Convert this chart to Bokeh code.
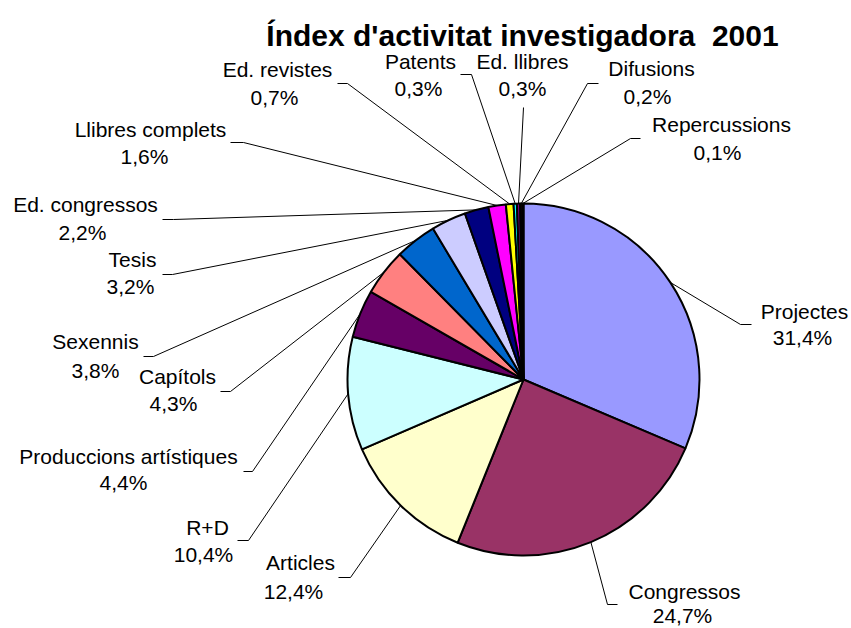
import math
from bokeh.plotting import figure
from bokeh.models import Range1d
from bokeh.core.properties import value
from bokeh.embed import file_html
from bokeh.resources import INLINE

# ---- data ----
categories = ["Projectes", "Congressos", "Articles", "R+D", "Produccions artístiques",
              "Capítols", "Sexennis", "Tesis", "Ed. congressos", "Llibres complets",
              "Ed. revistes", "Patents", "Ed. llibres", "Difusions", "Repercussions"]
values = [31.4, 24.7, 12.4, 10.4, 4.4, 4.3, 3.8, 3.2, 2.2, 1.6, 0.7, 0.3, 0.3, 0.2, 0.1]
colors = ["#9999FF", "#993366", "#FFFFCC", "#CCFFFF", "#660066", "#FF8080", "#0066CC",
          "#CCCCFF", "#000080", "#FF00FF", "#FFFF00", "#00FFFF", "#800080", "#800000", "#008080"]
title_text = "Índex d'activitat investigadora\u00a0 2001"

# ---- layout (page pixel positions of the labels) ----
name_pos = [(804, 311), (684, 591), (300, 562), (207, 527), (128, 456), (177, 376), (95, 341),
            (132, 259), (85, 204), (150, 129), (277, 69), (420, 61), (522, 61), (651, 68), (721, 124)]
pct_pos = [(802, 337), (682, 615), (293, 591), (203, 554), (123, 482), (173, 403), (95, 370),
           (130, 286), (82, 232), (144, 156), (274, 97), (418, 88), (522, 88), (647, 96), (717, 152)]
elbows = [(740, 324), (607, 604), (350, 577), (248, 540), (252, 471), (230, 391), (153, 356),
          (172, 274), (173, 219), (243, 142), (347, 83), (471, 74), (523, 107), (587, 83), (630, 138)]
tails = [(751, 324), (617, 604), (338, 577), (237, 540), (243, 471), (220, 391), (143, 356),
         (162, 274), (162, 219), (230, 142), (337, 83), (460, 74), (523, 107), (598, 83), (640, 138)]

W, H = 851, 628


def X(px):
    return px


def Y(py):
    return H - py


cx, cy, R = X(523), Y(379), 176

p = figure(width=W, height=H, output_backend="svg", toolbar_location=None,
           x_range=Range1d(0, W), y_range=Range1d(0, H),
           x_axis_location=None, y_axis_location=None, min_border=0)
p.grid.visible = False
p.outline_line_color = None
p.background_fill_color = "white"
p.border_fill_color = "white"

total = sum(values)
cum = 0.0
starts, ends, mids = [], [], []
for v in values:
    a0 = cum / total * 2 * math.pi
    cum += v
    a1 = cum / total * 2 * math.pi
    starts.append(math.pi / 2 - a1)
    ends.append(math.pi / 2 - a0)
    mids.append((a0 + a1) / 2)

p.wedge(x=cx, y=cy, radius=R, start_angle=starts, end_angle=ends,
        fill_color=colors, line_color="black", line_width=2)

# leader lines
xs, ys = [], []
for m, (ex, ey), (tx, ty) in zip(mids, elbows, tails):
    sx = cx + R * math.sin(m)
    sy = cy + R * math.cos(m)
    xs.append([sx, X(ex), X(tx)])
    ys.append([sy, Y(ey), Y(ty)])
p.multi_line(xs=xs, ys=ys, line_color="black", line_width=1)

pct_labels = [f"{v:.1f}".replace(".", ",") + "%" for v in values]

p.text(x=[X(a) for a, b in name_pos], y=[Y(b) for a, b in name_pos], text=categories,
       text_font=value("Liberation Sans"), text_font_size=value("21px"),
       text_align="center", text_baseline="middle", text_color="black")
p.text(x=[X(a) for a, b in pct_pos], y=[Y(b) for a, b in pct_pos], text=pct_labels,
       text_font=value("Liberation Sans"), text_font_size=value("21px"),
       text_align="center", text_baseline="middle", text_color="black")

p.text(x=[X(522)], y=[Y(35)], text=[title_text],
       text_font=value("Liberation Sans"), text_font_size=value("30px"), text_font_style="bold",
       text_align="center", text_baseline="middle", text_color="black")

open("out.html", "w").write(file_html(p, INLINE))
